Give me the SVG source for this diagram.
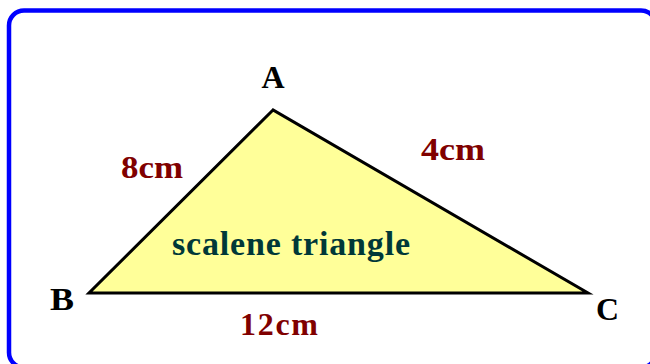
<svg xmlns="http://www.w3.org/2000/svg" width="650" height="364" viewBox="0 0 650 364">
<style>
.lbl{font-family:"Liberation Serif","Times New Roman",serif;font-weight:bold;font-size:32px;}
.v{fill:#000000;}
.m{fill:#800000;}
.t{fill:#003838;font-size:34px;}
</style>
<rect x="0" y="0" width="650" height="364" fill="#ffffff"/>
<g id="frame">
<rect x="9" y="10.5" width="647" height="357" rx="15" ry="15" fill="none" stroke="#0000ff" stroke-width="4.5"/>
</g>
<g id="triangle">
<polygon points="273,110 89,293 588,293" fill="#ffff99" stroke="#000000" stroke-width="3" stroke-linejoin="miter"/>
</g>
<g id="labels">
<text class="lbl v" x="273" y="88" text-anchor="middle">A</text>
<text class="lbl v" x="50" y="310" textLength="24" lengthAdjust="spacingAndGlyphs">B</text>
<text class="lbl v" x="596" y="320" textLength="23" lengthAdjust="spacingAndGlyphs">C</text>
<text class="lbl m" x="121" y="178" textLength="62" lengthAdjust="spacingAndGlyphs">8cm</text>
<text class="lbl m" x="421" y="160" textLength="64" lengthAdjust="spacingAndGlyphs">4cm</text>
<text class="lbl m" x="240" y="335" textLength="78" lengthAdjust="spacing">12cm</text>
<text class="lbl t" x="172" y="255" textLength="238" lengthAdjust="spacing">scalene triangle</text>
</g>
</svg>
